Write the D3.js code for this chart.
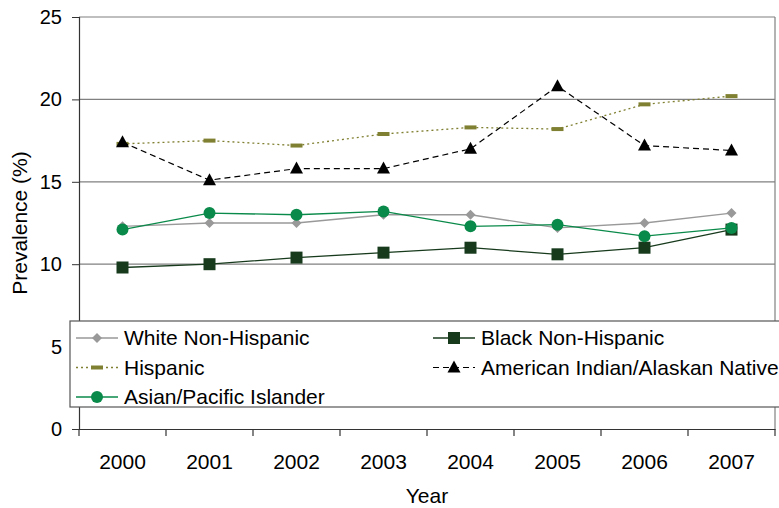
<!DOCTYPE html>
<html>
<head>
<meta charset="utf-8">
<script src="https://cdn.jsdelivr.net/npm/d3@7"></script>
<style>
  body { margin: 0; background: #fff; }
  svg { display: block; font-family: "Liberation Sans", Arial, sans-serif; }
</style>
</head>
<body>
<div id="chart"></div>
<script>
"use strict";

var years = ["2000", "2001", "2002", "2003", "2004", "2005", "2006", "2007"];
var yTicks = [0, 5, 10, 15, 20, 25];
var whiteNH = [12.3, 12.5, 12.5, 13.0, 13.0, 12.2, 12.5, 13.1];
var blackNH = [9.8, 10.0, 10.4, 10.7, 11.0, 10.6, 11.0, 12.1];
var hispanic = [17.3, 17.5, 17.2, 17.9, 18.3, 18.2, 19.7, 20.2];
var amIndian = [17.4, 15.1, 15.8, 15.8, 17.0, 20.8, 17.2, 16.9];
var asianPI = [12.1, 13.1, 13.0, 13.2, 12.3, 12.4, 11.7, 12.2];

var series = [
	{ name: "White Non-Hispanic", values: whiteNH, color: "#999999", dash: null, marker: "diamond", width: 1.3 },
	{ name: "Black Non-Hispanic", values: blackNH, color: "#173a1c", dash: null, marker: "square", width: 1.3 },
	{ name: "Hispanic", values: hispanic, color: "#808033", dash: "2,3", marker: "bar", width: 1.3 },
	{ name: "American Indian/Alaskan Native", values: amIndian, color: "#000000", dash: "6,4", marker: "triangle", width: 1.2 },
	{ name: "Asian/Pacific Islander", values: asianPI, color: "#0a8a4a", dash: null, marker: "circle", width: 1.3 }
];

var W = 779, H = 508;
var pLeft = 79, pRight = 775, pTop = 17, pBottom = 429;
var fontSize = "21px";

var svg = d3.select("#chart").append("svg")
	.attr("width", W)
	.attr("height", H);

var x = d3.scaleBand().domain(years).range([pLeft, pRight]);
var y = d3.scaleLinear().domain([0, 25]).range([pBottom, pTop]);
var cx = function (d, i) { return x(years[i]) + x.bandwidth() / 2; };

// gridlines
svg.append("g")
	.selectAll("line")
	.data(yTicks.filter(function (t) { return t > 0; }))
	.enter().append("line")
	.attr("x1", pLeft).attr("x2", pRight)
	.attr("y1", function (d) { return y(d); })
	.attr("y2", function (d) { return y(d); })
	.attr("stroke", "#808080")
	.attr("stroke-width", 1.2);

// right border
svg.append("line")
	.attr("x1", pRight).attr("x2", pRight)
	.attr("y1", pTop).attr("y2", pBottom)
	.attr("stroke", "#808080")
	.attr("stroke-width", 1.2);

// axes
var yAxis = svg.append("g")
	.attr("transform", "translate(" + pLeft + ",0)")
	.call(d3.axisLeft(y).tickValues(yTicks).tickSize(7).tickPadding(10));
var xAxis = svg.append("g")
	.attr("transform", "translate(0," + pBottom + ")")
	.call(d3.axisBottom(x).tickSize(0).tickPadding(25));

yAxis.select(".domain").attr("stroke", "#333").attr("stroke-width", 1.2);
xAxis.select(".domain").attr("stroke", "#333").attr("stroke-width", 1.2);
yAxis.selectAll(".tick line").attr("stroke", "#333");
svg.selectAll(".tick text")
	.attr("fill", "#000")
	.attr("font-family", "Liberation Sans, Arial, sans-serif")
	.attr("font-size", fontSize);
yAxis.selectAll(".tick text").attr("font-size", "20px");

// x tick marks on category boundaries
svg.append("g")
	.selectAll("line")
	.data(years.concat(["end"]))
	.enter().append("line")
	.attr("x1", function (d, i) { return pLeft + i * x.bandwidth(); })
	.attr("x2", function (d, i) { return pLeft + i * x.bandwidth(); })
	.attr("y1", pBottom).attr("y2", pBottom + 7)
	.attr("stroke", "#333")
	.attr("stroke-width", 1.2);

// axis titles
svg.append("text")
	.attr("x", (pLeft + pRight) / 2)
	.attr("y", 503)
	.attr("text-anchor", "middle")
	.attr("font-size", fontSize)
	.text("Year");

svg.append("text")
	.attr("transform", "translate(27," + ((pTop + pBottom) / 2) + ") rotate(-90)")
	.attr("text-anchor", "middle")
	.attr("font-size", fontSize)
	.text("Prevalence (%)");

function drawMarker(g, type, color) {
	if (type === "diamond") {
		g.append("path").attr("d", "M0,-5L5,0L0,5L-5,0Z").attr("fill", color);
	} else if (type === "square") {
		g.append("rect").attr("x", -6).attr("y", -6).attr("width", 12).attr("height", 12).attr("fill", color);
	} else if (type === "bar") {
		g.append("rect").attr("x", -6).attr("y", -2).attr("width", 12).attr("height", 4).attr("fill", color);
	} else if (type === "triangle") {
		g.append("path").attr("d", "M0,-7L6.5,5L-6.5,5Z").attr("fill", color);
	} else if (type === "circle") {
		g.append("circle").attr("r", 6).attr("fill", color);
	}
}

var line = d3.line()
	.x(function (d, i) { return cx(d, i); })
	.y(function (d) { return y(d); });

series.forEach(function (s) {
	var g = svg.append("g");
	g.append("path")
		.attr("d", line(s.values))
		.attr("fill", "none")
		.attr("stroke", s.color)
		.attr("stroke-width", s.width)
		.attr("stroke-dasharray", s.dash);
	s.values.forEach(function (v, i) {
		var m = g.append("g").attr("transform", "translate(" + cx(v, i) + "," + y(v) + ")");
		drawMarker(m, s.marker, s.color);
	});
});

// legend
var legend = svg.append("g");
legend.append("rect")
	.attr("x", 70).attr("y", 321)
	.attr("width", 720).attr("height", 86)
	.attr("fill", "#fff")
	.attr("stroke", "#555")
	.attr("stroke-width", 1.2);

var legendPos = [
	{ x: 76, y: 338 }, { x: 433, y: 338 },
	{ x: 76, y: 367.5 }, { x: 433, y: 367.5 },
	{ x: 76, y: 397 }
];

series.forEach(function (s, i) {
	var p = legendPos[i];
	var item = legend.append("g").attr("transform", "translate(" + p.x + "," + p.y + ")");
	item.append("line")
		.attr("x1", 0).attr("x2", 42)
		.attr("stroke", s.color)
		.attr("stroke-width", s.width)
		.attr("stroke-dasharray", s.dash);
	var m = item.append("g").attr("transform", "translate(21,0)");
	drawMarker(m, s.marker, s.color);
	item.append("text")
		.attr("x", 48)
		.attr("y", 7)
		.attr("font-size", fontSize)
		.text(s.name);
});
</script>
</body>
</html>
